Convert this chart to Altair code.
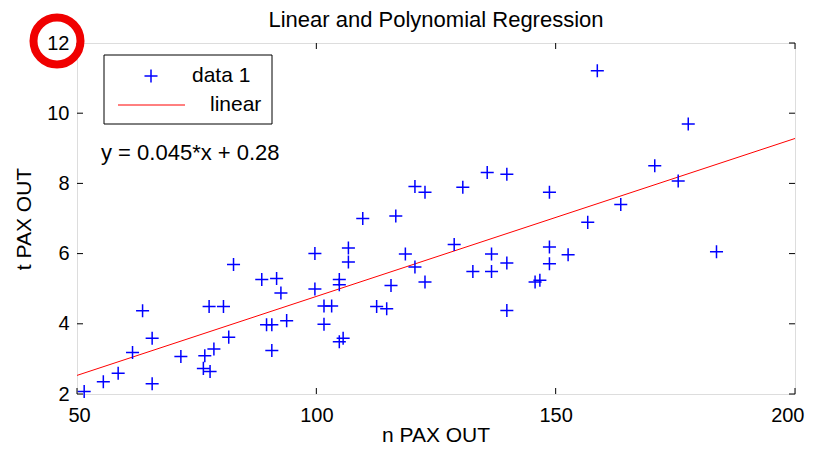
import altair as alt
import pandas as pd

# ---- data ----
n_pax = [51.5, 55.5, 58.6, 61.6, 63.7, 65.7, 65.7, 71.7, 76.7, 76.4, 77.8, 77.6, 80.6,
         78.6, 81.7, 82.7, 88.6, 91.7, 92.6, 89.6, 90.7, 93.8, 90.7, 99.7, 99.7, 106.7,
         106.7, 109.7, 116.6, 120.6, 122.7, 130.6, 135.7, 139.8, 148.7, 104.8, 104.8,
         101.6, 103.2, 101.6, 104.8, 105.6, 112.6, 114.7, 115.6, 118.6, 120.6, 122.7,
         128.8, 132.7, 136.6, 136.6, 139.8, 139.8, 145.7, 146.7, 148.7, 148.7, 158.7,
         177.7, 170.7, 175.6, 163.6, 156.7, 152.6, 183.6]
t_pax = [2.07, 2.35, 2.59, 3.18, 4.37, 3.59, 2.29, 3.07, 3.09, 2.73, 2.64, 4.49, 4.49,
         3.28, 3.62, 5.69, 5.26, 5.29, 4.88, 3.97, 3.97, 4.09, 3.24, 6.00, 4.99, 6.16,
         5.76, 7.00, 7.07, 7.91, 7.75, 7.89, 8.31, 8.26, 7.75, 5.26, 5.11,
         4.51, 4.51, 3.99, 3.49, 3.59, 4.49, 4.43, 5.09, 5.99, 5.62, 5.19,
         6.26, 5.49, 5.99, 5.49, 5.73, 4.38, 5.19, 5.24, 6.19, 5.71, 11.21,
         9.69, 8.50, 8.07, 7.40, 6.89, 5.97, 6.05]
fit_x = [50, 200]
fit_y = [2.53, 9.28]
x_ticks = [50, 100, 150, 200]
y_ticks = [2, 4, 6, 8, 10, 12]
legend_labels = ["data 1", "linear"]
equation = ["y = 0.045*x + 0.28"]
chart_title = ["Linear and Polynomial Regression"]
x_title = ["n PAX OUT"]
y_title = "t PAX OUT"

# ---- styling ----
W, H = 718, 351
FONT = "Liberation Sans"
BLUE = "#0000ff"
RED = "#ff0000"
PLUS = "M-1,0L1,0M0,-1L0,1"
TICK = 6

xs = alt.Scale(domain=[50, 200], nice=False, zero=False)
ys = alt.Scale(domain=[2, 12], nice=False, zero=False)

AX = alt.Axis(values=x_ticks, title="", tickSize=0, domain=False, grid=False,
              labelFont=FONT, labelFontSize=20, labelColor="black", labelPadding=11,
              labelFlush=True, labelFlushOffset=9, format="d")
AY = alt.Axis(values=y_ticks, title=y_title, tickSize=0, domain=False, grid=False,
              labelFont=FONT, labelFontSize=20, labelColor="black", labelPadding=8,
              labelFlush=False, format="d",
              titleFont=FONT, titleFontSize=21, titleFontWeight="normal",
              titleColor="black", titlePadding=12)

pts = pd.DataFrame({"x": n_pax, "y": t_pax})
fit = pd.DataFrame({"x": fit_x, "y": fit_y})
xt = pd.DataFrame({"x": x_ticks})
yt = pd.DataFrame({"y": y_ticks})
one = pd.DataFrame({"k": [0]})

line = alt.Chart(fit).mark_line(color=RED, strokeWidth=1).encode(
    x=alt.X("x:Q", scale=xs, axis=AX), y=alt.Y("y:Q", scale=ys, axis=AY))

points = alt.Chart(pts).mark_point(shape=PLUS, size=170, color=BLUE, strokeWidth=1.5,
                                   filled=False, opacity=1).encode(
    x=alt.X("x:Q", scale=xs, axis=AX), y=alt.Y("y:Q", scale=ys, axis=AY))

xb = alt.Chart(xt).mark_rule(color="black", strokeWidth=1).encode(
    x=alt.X("x:Q", scale=xs, axis=AX), y=alt.value(H), y2=alt.value(H - TICK))
xtop = alt.Chart(xt).mark_rule(color="black", strokeWidth=1).encode(
    x=alt.X("x:Q", scale=xs, axis=AX), y=alt.value(0), y2=alt.value(TICK))
yl = alt.Chart(yt).mark_rule(color="black", strokeWidth=1).encode(
    y=alt.Y("y:Q", scale=ys, axis=AY), x=alt.value(0), x2=alt.value(TICK))
yr = alt.Chart(yt).mark_rule(color="black", strokeWidth=1).encode(
    y=alt.Y("y:Q", scale=ys, axis=AY), x=alt.value(W), x2=alt.value(W - TICK))

# legend box
lbox = alt.Chart(one).mark_rect(fill="white", stroke="black", strokeWidth=1).encode(
    x=alt.value(27), x2=alt.value(195), y=alt.value(12), y2=alt.value(81))
lplus = alt.Chart(one).mark_point(shape=PLUS, size=170, color=BLUE, strokeWidth=1.5,
                                  filled=False, opacity=1).encode(
    x=alt.value(74), y=alt.value(33))
lline = alt.Chart(one).mark_rule(color=RED, strokeWidth=1).encode(
    x=alt.value(41), x2=alt.value(108), y=alt.value(62))
ltxt1 = alt.Chart(pd.DataFrame({"t": [legend_labels[0]]})).mark_text(
    align="left", baseline="middle", font=FONT, fontSize=21, color="black").encode(
    x=alt.value(115), y=alt.value(33), text="t:N")
ltxt2 = alt.Chart(pd.DataFrame({"t": [legend_labels[1]]})).mark_text(
    align="left", baseline="middle", font=FONT, fontSize=21, color="black").encode(
    x=alt.value(133), y=alt.value(62), text="t:N")
eq = alt.Chart(pd.DataFrame({"t": equation})).mark_text(
    align="left", baseline="middle", font=FONT, fontSize=22, color="black").encode(
    x=alt.value(24), y=alt.value(110), text="t:N")
title = alt.Chart(pd.DataFrame({"t": chart_title})).mark_text(
    align="center", baseline="middle", font=FONT, fontSize=22, color="black").encode(
    x=alt.value(W / 2), y=alt.value(-23), text="t:N")
xlab = alt.Chart(pd.DataFrame({"t": x_title})).mark_text(
    align="center", baseline="middle", font=FONT, fontSize=21, color="black").encode(
    x=alt.value(W / 2), y=alt.value(H + 42), text="t:N")

circle = alt.Chart(one).mark_point(shape="circle", size=2210, color="#f00000",
                                   strokeWidth=8, filled=False, opacity=1).encode(
    x=alt.value(-20), y=alt.value(-2))

chart = alt.layer(line, points, xb, xtop, yl, yr, lbox, lplus, lline, ltxt1, ltxt2,
                  eq, title, xlab, circle).properties(
    width=W, height=H,
    padding={"left": 69, "top": 35, "right": 10, "bottom": 53},
    autosize=alt.AutoSizeParams(type="none"),
).configure_view(stroke="#000000", strokeWidth=1.5).configure(background="white")

chart.save("out.html", embed_options={"renderer": "svg", "actions": False})
